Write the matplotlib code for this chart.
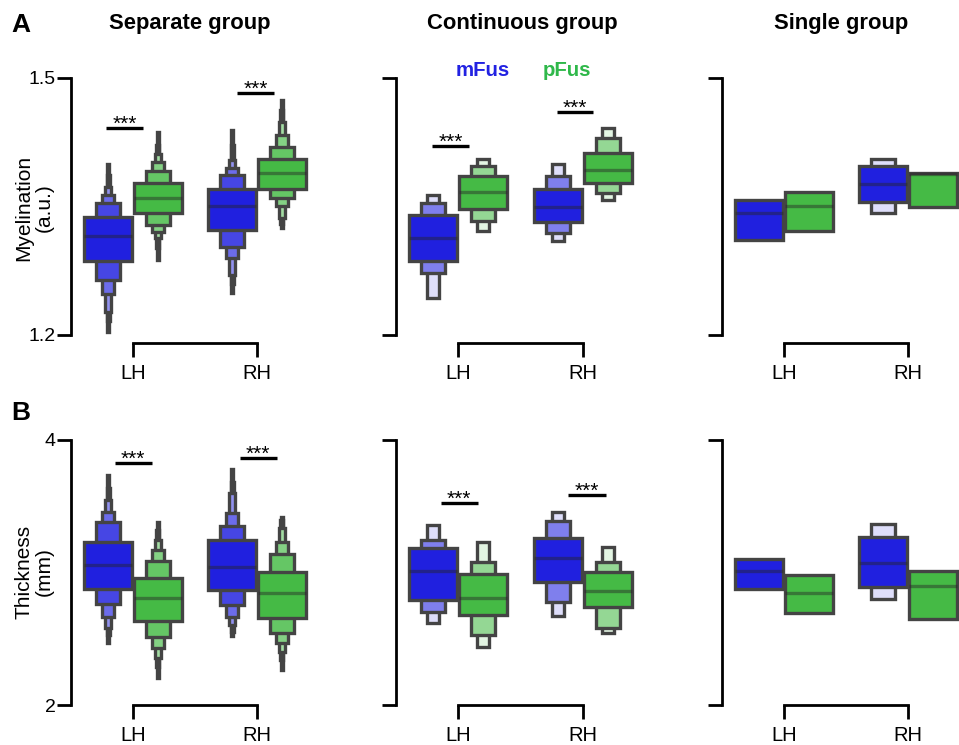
import numpy as np
import matplotlib
matplotlib.use("Agg")
import matplotlib.pyplot as plt
from matplotlib.colors import to_rgb

plt.rcParams['font.family'] = ['Liberation Sans', 'DejaVu Sans']

hemis = ["LH", "RH"]
rois = ["mFus", "pFus"]
groups = ["Separate group", "Continuous group", "Single group"]
ylabels = ["Myelination\n(a.u.)", "Thickness\n(mm)"]
roi_colors = ["#2020df", "#45ba45"]
text_colors = ["#2222e2", "#2fb84a"]
edge_gray = "#444444"

# letter-value boxes, order: LH-mFus, LH-pFus, RH-mFus, RH-pFus
# lo/hi lists go from the inner box (IQR) outwards
sep_mye_med = [1.315, 1.360, 1.350, 1.389]
sep_mye_lo = [[1.286, 1.264, 1.248, 1.227, 1.216, 1.203],
              [1.342, 1.328, 1.320, 1.313, 1.301, 1.287],
              [1.323, 1.303, 1.290, 1.270, 1.260, 1.249],
              [1.371, 1.360, 1.351, 1.336, 1.330, 1.325]]
sep_mye_hi = [[1.338, 1.354, 1.364, 1.373, 1.387, 1.400],
              [1.378, 1.391, 1.402, 1.411, 1.422, 1.437],
              [1.371, 1.387, 1.395, 1.404, 1.422, 1.439],
              [1.406, 1.420, 1.434, 1.449, 1.463, 1.474]]

con_mye_med = [1.313, 1.367, 1.349, 1.393]
con_mye_lo = [[1.286, 1.272, 1.243],
              [1.347, 1.333, 1.321],
              [1.332, 1.319, 1.310],
              [1.377, 1.366, 1.358]]
con_mye_hi = [[1.340, 1.354, 1.364],
              [1.386, 1.397, 1.405],
              [1.370, 1.386, 1.400],
              [1.412, 1.430, 1.442]]

sin_mye_med = [1.342, 1.350, 1.376, 1.388]
sin_mye_lo = [[1.311], [1.321], [1.355, 1.342], [1.349]]
sin_mye_hi = [[1.358], [1.367], [1.397, 1.405], [1.389]]

sep_thk_med = [3.057, 2.805, 3.044, 2.843]
sep_thk_lo = [[2.875, 2.760, 2.666, 2.579, 2.528, 2.466],
              [2.634, 2.515, 2.428, 2.352, 2.289, 2.202],
              [2.868, 2.755, 2.666, 2.604, 2.553, 2.523],
              [2.659, 2.546, 2.466, 2.402, 2.340, 2.264]]
sep_thk_hi = [[3.228, 3.379, 3.459, 3.547, 3.635, 3.736],
              [2.956, 3.087, 3.170, 3.245, 3.321, 3.379],
              [3.245, 3.353, 3.447, 3.598, 3.685, 3.781],
              [3.002, 3.137, 3.232, 3.334, 3.396, 3.421]]

con_thk_med = [3.011, 2.810, 3.107, 2.860]
con_thk_lo = [[2.792, 2.700, 2.617],
              [2.679, 2.528, 2.440],
              [2.931, 2.780, 2.672],
              [2.742, 2.579, 2.541]]
con_thk_hi = [[3.187, 3.245, 3.358],
              [2.986, 3.082, 3.228],
              [3.263, 3.389, 3.454],
              [3.006, 3.077, 3.195]]

sin_thk_med = [3.011, 2.848, 3.069, 2.900]
sin_thk_lo = [[2.873], [2.692], [2.893, 2.800], [2.647]]
sin_thk_hi = [[3.102], [2.981], [3.270, 3.364], [3.011]]

# significance bars: (x start, x end, y)
sep_mye_sig = [(-0.22, 0.08, 1.4416), (0.84, 1.14, 1.4825)]
con_mye_sig = [(-0.21, 0.09, 1.4206), (0.79, 1.08, 1.4603)]
sep_thk_sig = [(-0.145, 0.15, 3.826), (0.86, 1.16, 3.864)]
con_thk_sig = [(-0.14, 0.16, 3.525), (0.88, 1.18, 3.585)]

panels = [
    [(sep_mye_med, sep_mye_lo, sep_mye_hi, sep_mye_sig),
     (con_mye_med, con_mye_lo, con_mye_hi, con_mye_sig),
     (sin_mye_med, sin_mye_lo, sin_mye_hi, [])],
    [(sep_thk_med, sep_thk_lo, sep_thk_hi, sep_thk_sig),
     (con_thk_med, con_thk_lo, con_thk_hi, con_thk_sig),
     (sin_thk_med, sin_thk_lo, sin_thk_hi, [])],
]
ylims = [(1.2, 1.5), (2, 4)]
yticks = [[1.2, 1.5], [2, 4]]
ytlabels = [["1.2", "1.5"], ["2", "4"]]

W, H = 959, 745
fig = plt.figure(figsize=(W / 100, H / 100), dpi=100)

col_px = [(71, 319), (395.5, 645.5), (722, 970)]
row_px = [(78, 335), (440, 705)]
spine_off = [5.8, 0]

box_w = 0.39
lw = 2.4


def lv_colors(base, n):
    base = np.array(to_rgb(base))
    if n == 1:
        return [base]
    return [base + (1 - base) * 0.85 * j / (n - 1) for j in range(n)]


for r in range(2):
    for c in range(3):
        l, rr = col_px[c]
        t, b = row_px[r]
        ax = fig.add_axes([l / W, 1 - b / H, (rr - l) / W, (b - t) / H])
        med, lo, hi, sig = panels[r][c]
        for i in range(4):
            h = i // 2
            k = i % 2
            x = h + (-0.2 if k == 0 else 0.2)
            n = len(lo[i])
            cols = lv_colors(roi_colors[k], n)
            for j in range(n - 1, -1, -1):
                ax.bar(x, hi[i][j] - lo[i][j], bottom=lo[i][j],
                       width=box_w * 0.5 ** j, color=cols[j],
                       edgecolor=edge_gray, linewidth=lw, zorder=3 + i)
            ax.plot([x - box_w / 2, x + box_w / 2], [med[i], med[i]],
                    color=".15", alpha=.45, lw=2.4, zorder=3 + i,
                    solid_capstyle="butt")
        for x0, x1, y in sig:
            ax.plot([x0, x1], [y, y], color="black", lw=2.4,
                    solid_capstyle="butt")
            ax.annotate("***", xy=((x0 + x1) / 2, y), xytext=(0, -1.5),
                        textcoords="offset points", ha="center",
                        va="baseline", fontsize=15)

        ax.set_xlim(-0.5, 1.5)
        ax.set_ylim(*ylims[r])
        ax.set_xticks([0, 1])
        ax.set_xticklabels(hemis)
        ax.set_yticks(yticks[r])
        if c == 0:
            ax.set_yticklabels(ytlabels[r])
        else:
            ax.set_yticklabels([])
        for s in ["top", "right"]:
            ax.spines[s].set_visible(False)
        ax.spines["left"].set_bounds(*ylims[r])
        ax.spines["bottom"].set_bounds(0, 1)
        ax.spines["bottom"].set_position(("outward", spine_off[r]))
        for s in ["left", "bottom"]:
            ax.spines[s].set_linewidth(2.0)
        ax.tick_params(axis="both", length=10, width=2.0)
        ax.tick_params(axis="y", pad=1, labelsize=14)
        ax.tick_params(axis="x", pad=5, labelsize=14.5)
        ax.patch.set_alpha(0)


def fx(x):
    return x / W


def fy(y):
    return 1 - y / H


title_x = [190, 522, 841]
for c in range(3):
    fig.text(fx(title_x[c]), fy(23), groups[c], ha="center", va="center",
             fontsize=15.8, fontweight="bold")

fig.text(fx(21), fy(25), "A", ha="center", va="center", fontsize=19,
         fontweight="bold")
fig.text(fx(21), fy(413), "B", ha="center", va="center", fontsize=19,
         fontweight="bold")

fig.text(fx(34), fy(208), ylabels[0], rotation=90, ha="center", va="center",
         fontsize=15, multialignment="center", linespacing=1.05)
fig.text(fx(34), fy(572), ylabels[1], rotation=90, ha="center", va="center",
         fontsize=15, multialignment="center", linespacing=1.05)

fig.text(fx(483), fy(70), rois[0], ha="center", va="center", fontsize=14.7,
         fontweight="bold", color=text_colors[0])
fig.text(fx(567), fy(70), rois[1], ha="center", va="center", fontsize=14.7,
         fontweight="bold", color=text_colors[1])

fig.savefig("out.png", dpi=100)
